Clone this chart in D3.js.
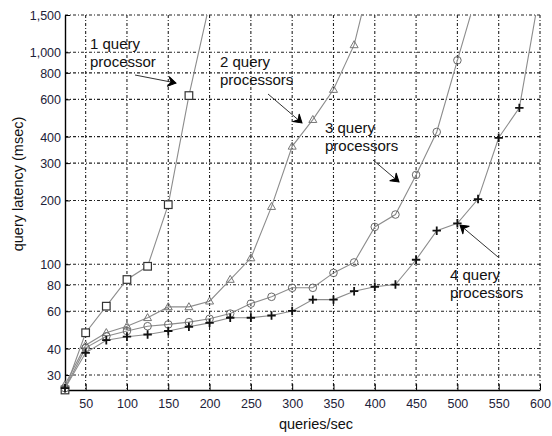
<!DOCTYPE html>
<html>
<head>
<meta charset="utf-8">
<script src="https://cdn.jsdelivr.net/npm/d3@7"></script>
<style>
  body { margin: 0; background: #fff; }
  text { font-family: "Liberation Sans", Arial, Helvetica, sans-serif; }
</style>
</head>
<body>
<div id="chart"></div>
<script>
// load (queries/sec) for each measured point
const loads = [25,50,75,100,125,150,175,200,225,250,275,300,325,350,375,400,425,450,475,500,525,550,575,600];

// latency in msec (last point of each runs off the top)
const oneProc   = [25.5,47.5,63.4,84.7,97.8,191,625,1700];
const twoProc   = [27,41.5,47.5,51,55.9,62.9,62.9,66.9,84.7,107,187,360,481,667,1084,2700];
const threeProc = [26,40.3,45.7,48.4,51,52,53.3,55.3,58.5,65.2,70.2,77.4,77.4,91,102,150,171.6,264,421,917,1976];
const fourProc  = [26,38.2,43.8,45.5,46.6,48.4,50.7,52.9,55.9,55.9,57.3,60.2,68.1,68.1,74.6,78.3,80.2,105,144,156,203,395,547,1965];

const xTicks = [50,100,150,200,250,300,350,400,450,500,550,600];
const yTicks = [30,40,60,80,100,200,300,400,600,800,1000,1500];

const margin = {top: 15, right: 12, bottom: 46, left: 65},
    width = 552 - margin.left - margin.right,
    height = 436 - margin.top - margin.bottom;

const svg = d3.select("#chart")
  .append("svg")
    .attr("width", width + margin.left + margin.right)
    .attr("height", height + margin.top + margin.bottom)
  .append("g")
    .attr("transform", `translate(${margin.left}, ${margin.top})`);

const x = d3.scaleLinear().domain([25, 600]).range([0, width]);
const y = d3.scaleLog().domain([25.5, 1500]).range([height, 0]);

// dotted grid
svg.append("g").selectAll("line")
  .data(yTicks)
  .join("line")
    .attr("x1", 0).attr("x2", width)
    .attr("y1", d => y(d)).attr("y2", d => y(d))
    .attr("stroke", "#222").attr("stroke-width", 1.1)
    .attr("stroke-dasharray", "3,2,1,2");
svg.append("g").selectAll("line")
  .data(xTicks)
  .join("line")
    .attr("x1", d => x(d)).attr("x2", d => x(d))
    .attr("y1", 0).attr("y2", height)
    .attr("stroke", "#222").attr("stroke-width", 1.1)
    .attr("stroke-dasharray", "3,2,1,2");

// axes
const xAxis = svg.append("g")
  .attr("transform", `translate(0, ${height})`)
  .call(d3.axisBottom(x).tickValues(xTicks).tickSize(-6).tickSizeOuter(0).tickPadding(9));
const yAxis = svg.append("g")
  .call(d3.axisLeft(y).tickValues(yTicks).tickFormat(d3.format(",")).tickSize(-5).tickSizeOuter(0).tickPadding(4));
[xAxis, yAxis].forEach(a => {
  a.select(".domain").attr("stroke", "#000").attr("stroke-width", 1.4);
  a.selectAll(".tick line").attr("stroke", "#000");
  a.selectAll(".tick text")
    .attr("font-size", 12.5)
    .attr("fill", "#1d2238")
    .style("font-family", "'Liberation Sans', Arial, sans-serif");
});
yAxis.selectAll(".tick text").attr("dy", "0.36em");

// axis titles
svg.append("text")
  .attr("x", 251).attr("y", height + 39)
  .attr("text-anchor", "middle")
  .attr("font-size", 14.5)
  .attr("fill", "#111")
  .text("queries/sec");
svg.append("text")
  .attr("transform", `translate(-42, ${184 - margin.top}) rotate(-90)`)
  .attr("text-anchor", "middle")
  .attr("font-size", 14.5)
  .attr("fill", "#111")
  .text("query latency (msec)");

// clip so the runaway points stop at the top edge
svg.append("clipPath").attr("id", "plotclip")
  .append("rect").attr("x", -6).attr("y", 0).attr("width", width + 6).attr("height", height + 8);

const series = [
  {name: "one",   values: oneProc,   marker: "square"},
  {name: "two",   values: twoProc,   marker: "triangle"},
  {name: "three", values: threeProc, marker: "circle"},
  {name: "four",  values: fourProc,  marker: "plus"}
];

const line = d3.line()
  .x(d => x(d.load))
  .y(d => y(d.lat));

const plot = svg.append("g").attr("clip-path", "url(#plotclip)");

series.forEach(s => {
  const pts = s.values.map((v, i) => ({load: loads[i], lat: v}));
  plot.append("path")
    .datum(pts)
    .attr("fill", "none")
    .attr("stroke", "#8c8c8c")
    .attr("stroke-width", 1.1)
    .attr("d", line);

  const g = plot.append("g").selectAll("g")
    .data(pts)
    .join("g")
      .attr("transform", d => `translate(${x(d.load)}, ${y(d.lat)})`);

  if (s.marker == "square") {
    g.append("rect").attr("x", -3.8).attr("y", -3.8).attr("width", 7.6).attr("height", 7.6)
      .attr("fill", "#fff").attr("stroke", "#333").attr("stroke-width", 1.2);
  } else if (s.marker == "triangle") {
    g.append("path").attr("d", "M0,-4.2L4,2.8L-4,2.8Z")
      .attr("fill", "none").attr("stroke", "#777").attr("stroke-width", 1);
  } else if (s.marker == "circle") {
    g.append("circle").attr("r", 3.8)
      .attr("fill", "none").attr("stroke", "#6a6a6a").attr("stroke-width", 1);
  } else {
    g.append("path").attr("d", "M-4.2,0H4.2M0,-4.2V4.2")
      .attr("stroke", "#111").attr("stroke-width", 1.8);
  }
});

// annotations (page coordinates)
const notes = [
  {lines: ["1 query", "processor"],    tx: 90,  ty: 49,  from: [135, 75],  to: [176, 83]},
  {lines: ["2 query", "processors"],   tx: 220, ty: 67,  from: [268, 94],  to: [302, 123]},
  {lines: ["3 query", "processors"],   tx: 325, ty: 133, from: [373, 160], to: [399, 182]},
  {lines: ["4 query", "processors"],   tx: 450, ty: 280, from: [498, 257], to: [460, 225]}
];

const ann = d3.select("#chart svg").append("g");
notes.forEach(n => {
  const t = ann.append("text")
    .attr("x", n.tx).attr("y", n.ty)
    .attr("font-size", 15)
    .attr("fill", "#111");
  n.lines.forEach((l, i) => {
    t.append("tspan").attr("x", n.tx).attr("dy", i == 0 ? 0 : 17.5).text(l);
  });
  ann.append("line")
    .attr("x1", n.from[0]).attr("y1", n.from[1])
    .attr("x2", n.to[0]).attr("y2", n.to[1])
    .attr("stroke", "#333").attr("stroke-width", 1);
  const ang = Math.atan2(n.to[1] - n.from[1], n.to[0] - n.from[0]) * 180 / Math.PI;
  ann.append("path")
    .attr("d", "M0,0L-8,-5L-5,0L-8,5Z")
    .attr("transform", `translate(${n.to[0]}, ${n.to[1]}) rotate(${ang})`)
    .attr("fill", "#000")
    .attr("stroke", "#000").attr("stroke-width", 1);
});
</script>
</body>
</html>
